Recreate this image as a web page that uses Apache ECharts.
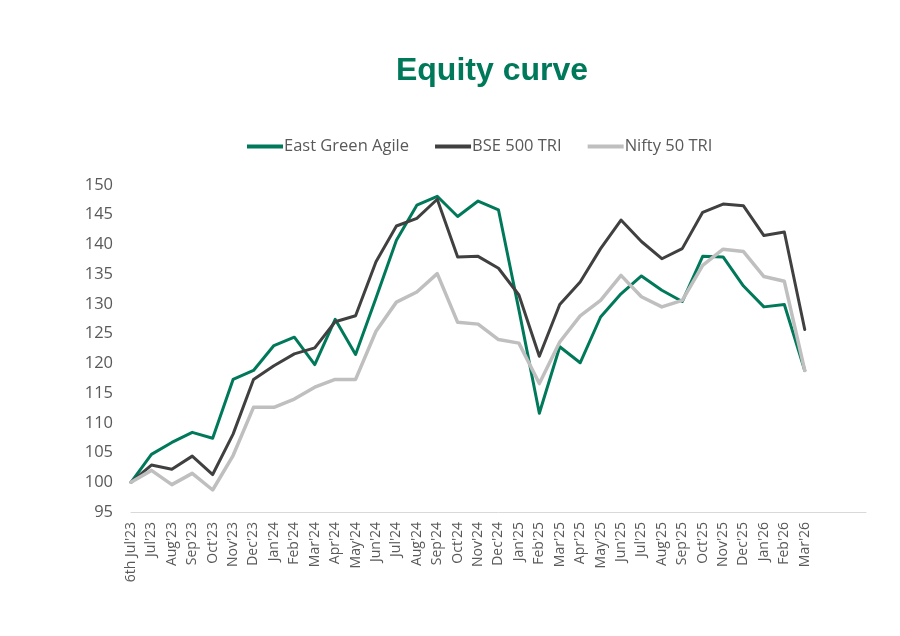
<!DOCTYPE html>
<html>
<head>
<meta charset="utf-8">
<script src="https://cdn.jsdelivr.net/npm/echarts@6/dist/echarts.min.js"></script>
<style>
html,body{margin:0;padding:0;background:#fff;}
#chart{width:900px;height:636px;}
</style>
</head>
<body>
<div id="chart"></div>
<script>
const categories = ["6th Jul'23","Jul'23","Aug'23","Sep'23","Oct'23","Nov'23","Dec'23","Jan'24","Feb'24","Mar'24","Apr'24","May'24","Jun'24","Jul'24","Aug'24","Sep'24","Oct'24","Nov'24","Dec'24","Jan'25","Feb'25","Mar'25","Apr'25","May'25","Jun'25","Jul'25","Aug'25","Sep'25","Oct'25","Nov'25","Dec'25","Jan'26","Feb'26","Mar'26"];
const eastGreenAgile = [100,104.7,106.7,108.4,107.4,117.3,118.8,123,124.4,119.8,127.4,121.5,131,140.7,146.6,148.1,144.7,147.3,145.8,129,111.6,122.8,120.1,127.8,131.7,134.7,132.3,130.4,138,137.9,133,129.5,129.9,118.8];
const bse500TRI = [100,102.9,102.2,104.4,101.3,108.1,117.3,119.6,121.6,122.6,127,128,137.1,143.1,144.4,147.6,137.9,138,136,131.5,121.2,129.9,133.7,139.3,144.1,140.5,137.6,139.3,145.4,146.8,146.5,141.5,142.1,125.7];
const nifty50TRI = [100,102,99.6,101.5,98.7,104.5,112.6,112.6,114,116,117.3,117.3,125.4,130.3,132,135.1,126.9,126.6,124,123.4,116.6,123.6,128,130.6,134.8,131.2,129.5,130.6,136.5,139.2,138.8,134.6,133.8,118.8];
const seriesNames = ["East Green Agile","BSE 500 TRI","Nifty 50 TRI"];

const chart = echarts.init(document.getElementById('chart'), null, {renderer:'canvas'});
const colors = ['#00795B','#404040','#BFBFBF'];
const widths = [3,3,3.5];
const mk = (i, data) => ({
  name: seriesNames[i], type:'line', data, symbol:'none', smooth:false,
  lineStyle:{color:colors[i], width:widths[i], cap:'round', join:'round'},
  itemStyle:{color:colors[i]}, animation:false
});
chart.setOption({
  backgroundColor:'#ffffff',
  animation:false,
  title:{
    text:'Equity curve', left:487, textAlign:'center', top:50,
    textStyle:{color:'#00795B', fontSize:32, fontWeight:'bold', fontFamily:'Liberation Sans'}
  },
  legend:{
    data:seriesNames, left:247, top:138, padding:0, icon:'rect', itemWidth:36, itemHeight:4, itemGap:26,
    textStyle:{color:'#595959', fontSize:16.5, fontFamily:'Open Sans', padding:[0,0,0,-4]}
  },
  grid:{left:131, right:34, top:185, bottom:124, containLabel:false},
  xAxis:{
    type:'category', data:categories, boundaryGap:false, max:36,
    axisLine:{show:true, lineStyle:{color:'#D9D9D9', width:1}},
    axisTick:{show:false},
    axisLabel:{interval:0, rotate:90, color:'#595959', fontSize:14, fontFamily:'Open Sans', margin:10}
  },
  yAxis:{
    type:'value', min:95, max:150, interval:5,
    axisLine:{show:false}, axisTick:{show:false}, splitLine:{show:false},
    axisLabel:{color:'#595959', fontSize:16.5, fontFamily:'Open Sans', margin:18}
  },
  series:[
    mk(0, eastGreenAgile),
    mk(1, bse500TRI),
    mk(2, nifty50TRI)
  ]
});
</script>
</body>
</html>
